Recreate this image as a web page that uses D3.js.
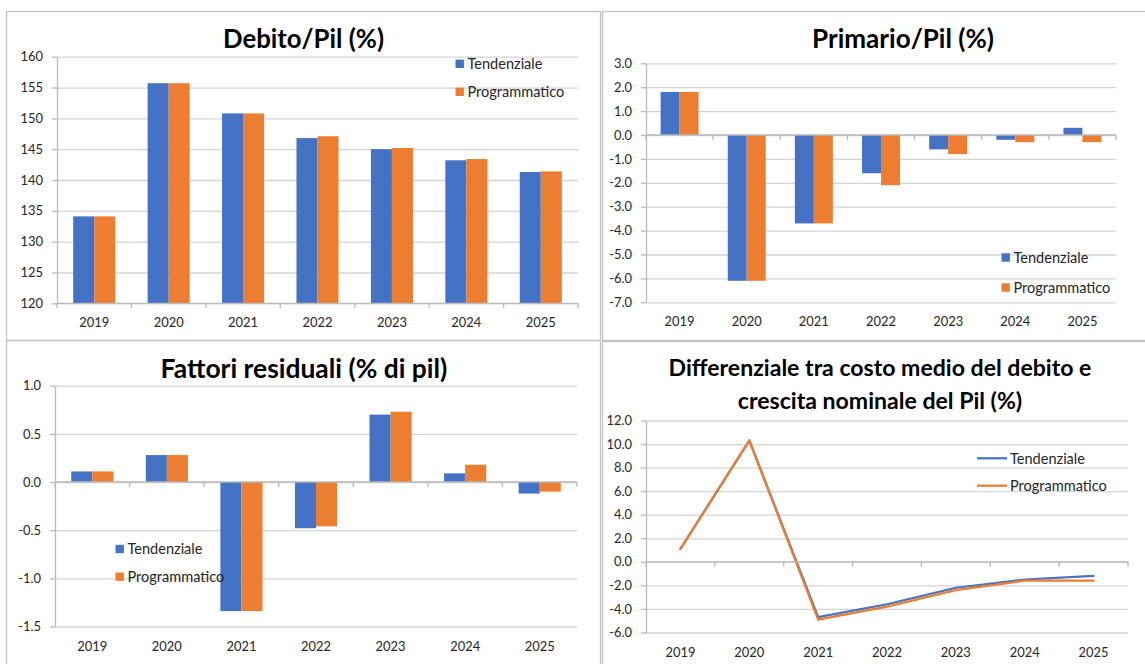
<!DOCTYPE html>
<html><head><meta charset="utf-8">
<script src="https://cdn.jsdelivr.net/npm/d3@7"></script>
<style>
html,body{margin:0;padding:0;background:#fff;}
svg{display:block;}
</style></head><body>
<svg id="chart" width="1145" height="664"></svg>
<script>
// ---------- DATA ----------
const years = ["2019","2020","2021","2022","2023","2024","2025"];
const seriesNames = ["Tendenziale","Programmatico"];
const debitoTend = [134.1,155.7,150.8,146.8,145.0,143.2,141.3];
const debitoProg = [134.1,155.7,150.8,147.1,145.2,143.4,141.4];
const primarioTend = [1.8,-6.1,-3.7,-1.6,-0.6,-0.2,0.3];
const primarioProg = [1.8,-6.1,-3.7,-2.1,-0.8,-0.3,-0.3];
const fattoriTend = [0.11,0.28,-1.34,-0.48,0.70,0.09,-0.12];
const fattoriProg = [0.11,0.28,-1.34,-0.46,0.73,0.18,-0.10];
const diffTend = [1.1,10.3,-4.7,-3.6,-2.2,-1.5,-1.2];
const diffProg = [1.1,10.3,-4.9,-3.8,-2.4,-1.6,-1.6];
const debitoTicks = [120,125,130,135,140,145,150,155,160];
const primarioTicks = [-7,-6,-5,-4,-3,-2,-1,0,1,2,3];
const fattoriTicks = [-1.5,-1.0,-0.5,0,0.5,1.0];
const diffTicks = [-6,-4,-2,0,2,4,6,8,10,12];
const titles = {
  debito: "Debito/Pil (%)",
  primario: "Primario/Pil (%)",
  fattori: "Fattori residuali (% di pil)",
  diff1: "Differenziale tra costo medio del debito e",
  diff2: "crescita nominale del Pil (%)"
};
// ---------- STYLE ----------
const FONT = "Lato, 'Liberation Sans', sans-serif";
const colors = ["#4472C4","#ED7D31"];
const gridC = "#d4d4d4", axisC = "#bababa", textC = "#262626";

const svg = d3.select("#chart").attr("font-family", FONT);
const fmt0 = v => String(v);
const fmt1 = v => v.toFixed(1);

function measure(text, weight, size) {
  const t = svg.append("text").attr("font-size", size).attr("font-weight", weight).text(text);
  const w = t.node().getComputedTextLength(); t.remove(); return w;
}
const tickFS = 100 * 30 / measure("2019", 400, 100);
const legendFS = 100 * 75 / measure("Tendenziale", 400, 100);

// panel borders
const borders = [[6.5,11.5,594,329],[602.5,11.5,560,329],[6.5,340.5,594,340],[602.5,341.5,560,340]];
svg.selectAll("rect.border").data(borders).join("rect").attr("class","border")
  .attr("x",d=>d[0]).attr("y",d=>d[1]).attr("width",d=>d[2]).attr("height",d=>d[3])
  .attr("fill","none").attr("stroke","#c4c4c4").attr("stroke-width",1.3);

function title(text, cx, baseY, targetW, fsOverride) {
  const t = svg.append("text").attr("x", cx).attr("y", baseY).attr("text-anchor","middle")
    .attr("font-weight", 700).attr("fill","#000").attr("font-size", 100).text(text);
  const fs = fsOverride || 100 * targetW / t.node().getComputedTextLength();
  t.attr("font-size", fs);
  return fs;
}

function frame(cfg) {
  const g = svg.append("g");
  const x = d3.scaleBand().domain(years).range(cfg.xr);
  const y = d3.scaleLinear().domain(cfg.dom).range(cfg.yr);
  const [xa, xb] = cfg.xr;
  // gridlines
  g.append("g").attr("transform", `translate(${xa},0)`)
    .call(d3.axisLeft(y).tickValues(cfg.ticks).tickSize(-(xb - xa)).tickSizeOuter(0).tickFormat(""))
    .call(s => s.select(".domain").remove())
    .call(s => s.selectAll("line").attr("stroke", gridC).attr("stroke-width", 1.3));
  // y axis
  const ya = g.append("g").attr("transform", `translate(${xa},0)`)
    .call(d3.axisLeft(y).tickValues(cfg.ticks).tickSize(5).tickSizeOuter(0).tickPadding(9).tickFormat(cfg.fmt));
  ya.attr("font-family", FONT).attr("font-size", tickFS);
  ya.select(".domain").attr("stroke", axisC).attr("stroke-width", 1.3);
  ya.selectAll(".tick line").attr("stroke", axisC).attr("stroke-width", 1.3);
  ya.selectAll("text").attr("fill", textC);
  // x labels at bottom
  const xl = g.append("g").attr("transform", `translate(0,${cfg.yr[0]})`)
    .call(d3.axisBottom(x).tickSize(0).tickPadding(15));
  xl.attr("font-family", FONT).attr("font-size", tickFS);
  xl.select(".domain").remove();
  xl.selectAll("text").attr("fill", textC);
  return {g, x, y};
}

function baseAxis(f, base) {
  const [xa, xb] = f.x.range();
  const yb = f.y(base);
  const bounds = years.map(d => f.x(d)).concat([xb]);
  const ax = svg.append("g");
  ax.append("line").attr("x1", xa).attr("x2", xb).attr("y1", yb).attr("y2", yb)
    .attr("stroke", axisC).attr("stroke-width", 1.3);
  ax.selectAll("line.t").data(bounds).join("line").attr("class","t")
    .attr("x1", d => d).attr("x2", d => d).attr("y1", yb).attr("y2", yb + 5)
    .attr("stroke", axisC).attr("stroke-width", 1.3);
}

function bars(f, series, base) {
  const bw = f.x.bandwidth();
  const gw = bw * 0.565;
  const x1 = d3.scaleBand().domain(seriesNames).range([0, gw]);
  series.forEach((vals, si) => {
    f.g.append("g").selectAll("rect").data(vals).join("rect")
      .attr("x", (d, i) => f.x(years[i]) + (bw - gw) / 2 + x1(seriesNames[si]))
      .attr("width", x1.bandwidth())
      .attr("y", d => Math.min(f.y(d), f.y(base)))
      .attr("height", d => Math.abs(f.y(d) - f.y(base)))
      .attr("fill", colors[si]);
  });
}

function legend(x, ys, type) {
  seriesNames.forEach((n, i) => {
    if (type === "rect") {
      svg.append("rect").attr("x", x).attr("y", ys[i] - 4.2).attr("width", 8.4).attr("height", 8.4).attr("fill", colors[i]);
      svg.append("text").attr("x", x + 12).attr("y", ys[i]).attr("dy", "0.36em")
        .attr("font-size", legendFS).attr("fill", textC).text(n);
    } else {
      svg.append("line").attr("x1", x).attr("x2", x + 30).attr("y1", ys[i]).attr("y2", ys[i])
        .attr("stroke", colors[i]).attr("stroke-width", 2.25);
      svg.append("text").attr("x", x + 33).attr("y", ys[i]).attr("dy", "0.36em")
        .attr("font-size", legendFS).attr("fill", textC).text(n);
    }
  });
}

// ---------- Panel 1: Debito/Pil ----------
title(titles.debito, 303.5, 48.3, 161);
const p1 = frame({xr:[57,578], dom:[120,160], yr:[303.3,56.7], ticks:debitoTicks, fmt:fmt0});
bars(p1, [debitoTend, debitoProg], 120);
baseAxis(p1, 120);
legend(455.5, [63.8, 91.8], "rect");

// ---------- Panel 2: Primario/Pil ----------
title(titles.primario, 903, 48.3, 182);
const p2 = frame({xr:[646,1116], dom:[-7,3], yr:[302.3,63.3], ticks:primarioTicks, fmt:fmt1});
baseAxis(p2, 0);
bars(p2, [primarioTend, primarioProg], 0);
legend(1001.5, [257.5, 287.5], "rect");

// ---------- Panel 3: Fattori residuali ----------
title(titles.fattori, 304, 377.7, 287);
const p3 = frame({xr:[55,577], dom:[-1.5,1], yr:[626.5,385.7], ticks:fattoriTicks, fmt:fmt1});
baseAxis(p3, 0);
bars(p3, [fattoriTend, fattoriProg], 0);
legend(115.5, [549, 576.7], "rect");

// ---------- Panel 4: Differenziale ----------
const fs4 = title(titles.diff1, 880, 375.7, 423);
title(titles.diff2, 880, 409, 0, fs4);
const p4 = frame({xr:[646,1128], dom:[-6,12], yr:[632.5,420.5], ticks:diffTicks, fmt:fmt1});
baseAxis(p4, 0);
const bw4 = p4.x.bandwidth();
[diffTend, diffProg].forEach((vals, si) => {
  p4.g.append("path").datum(vals)
    .attr("d", d3.line().x((d, i) => p4.x(years[i]) + bw4 / 2).y(d => p4.y(d)))
    .attr("fill", "none").attr("stroke", colors[si]).attr("stroke-width", 2.25)
    .attr("stroke-linejoin", "round").attr("stroke-linecap", "round");
});
legend(977, [458.3, 485.7], "line");
</script>
</body></html>
